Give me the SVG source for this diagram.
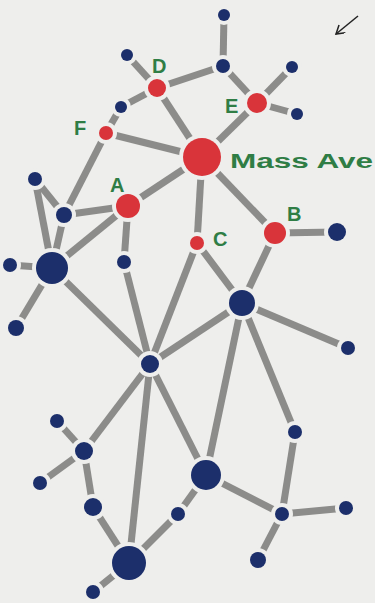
<svg xmlns="http://www.w3.org/2000/svg" width="375" height="603" viewBox="0 0 375 603">
<defs>
<marker id="ah" markerWidth="12" markerHeight="12" refX="9" refY="5" orient="auto" markerUnits="userSpaceOnUse">
<path d="M1,0 L9,5 L1,10" fill="none" stroke="#222" stroke-width="1.5"/>
</marker>
</defs>
<style>
.e{stroke:#8c8c8a;stroke-width:7;stroke-linecap:butt}
.b{fill:#1c2f6b;stroke:#eeeeec;stroke-width:8;paint-order:stroke fill}
.r{fill:#d9343a;stroke:#eeeeec;stroke-width:8;paint-order:stroke fill}
.t{fill:#2f7d45;font-family:"Liberation Sans",Arial,sans-serif;font-size:20px;font-weight:bold}
</style>
<rect width="375" height="603" fill="#eeeeec"/>
<g id="connectors">
<line class="e" x1="224" y1="15" x2="223" y2="66"/>
<line class="e" x1="127" y1="55" x2="157" y2="88"/>
<line class="e" x1="157" y1="88" x2="202" y2="157"/>
<line class="e" x1="157" y1="88" x2="223" y2="66"/>
<line class="e" x1="157" y1="88" x2="121" y2="107"/>
<line class="e" x1="223" y1="66" x2="257" y2="103"/>
<line class="e" x1="257" y1="103" x2="292" y2="67"/>
<line class="e" x1="257" y1="103" x2="297" y2="114"/>
<line class="e" x1="257" y1="103" x2="202" y2="157"/>
<line class="e" x1="121" y1="107" x2="106" y2="133"/>
<line class="e" x1="106" y1="133" x2="202" y2="157"/>
<line class="e" x1="106" y1="133" x2="64" y2="215"/>
<line class="e" x1="202" y1="157" x2="128" y2="206"/>
<line class="e" x1="202" y1="157" x2="197" y2="243"/>
<line class="e" x1="202" y1="157" x2="275" y2="233"/>
<line class="e" x1="128" y1="206" x2="64" y2="215"/>
<line class="e" x1="128" y1="206" x2="124" y2="262"/>
<line class="e" x1="128" y1="206" x2="52" y2="268"/>
<line class="e" x1="35" y1="179" x2="64" y2="215"/>
<line class="e" x1="35" y1="179" x2="52" y2="268"/>
<line class="e" x1="64" y1="215" x2="52" y2="268"/>
<line class="e" x1="52" y1="268" x2="10" y2="265"/>
<line class="e" x1="52" y1="268" x2="16" y2="328"/>
<line class="e" x1="52" y1="268" x2="150" y2="364"/>
<line class="e" x1="124" y1="262" x2="150" y2="364"/>
<line class="e" x1="197" y1="243" x2="150" y2="364"/>
<line class="e" x1="197" y1="243" x2="242" y2="303"/>
<line class="e" x1="275" y1="233" x2="242" y2="303"/>
<line class="e" x1="275" y1="233" x2="337" y2="232"/>
<line class="e" x1="242" y1="303" x2="150" y2="364"/>
<line class="e" x1="242" y1="303" x2="348" y2="348"/>
<line class="e" x1="242" y1="303" x2="206" y2="475"/>
<line class="e" x1="242" y1="303" x2="295" y2="432"/>
<line class="e" x1="150" y1="364" x2="84" y2="451"/>
<line class="e" x1="150" y1="364" x2="129" y2="563"/>
<line class="e" x1="150" y1="364" x2="206" y2="475"/>
<line class="e" x1="57" y1="421" x2="84" y2="451"/>
<line class="e" x1="84" y1="451" x2="40" y2="483"/>
<line class="e" x1="84" y1="451" x2="93" y2="507"/>
<line class="e" x1="93" y1="507" x2="129" y2="563"/>
<line class="e" x1="129" y1="563" x2="178" y2="514"/>
<line class="e" x1="178" y1="514" x2="206" y2="475"/>
<line class="e" x1="206" y1="475" x2="282" y2="514"/>
<line class="e" x1="295" y1="432" x2="282" y2="514"/>
<line class="e" x1="282" y1="514" x2="346" y2="508"/>
<line class="e" x1="282" y1="514" x2="258" y2="560"/>
<line class="e" x1="129" y1="563" x2="93" y2="592"/>
</g>
<g id="n_top"><circle class="b" cx="224" cy="15" r="6"/></g>
<g id="n_d_ul"><circle class="b" cx="127" cy="55" r="6"/></g>
<g id="n_e_top"><circle class="b" cx="223" cy="66" r="7"/></g>
<g id="n_e_ur"><circle class="b" cx="292" cy="67" r="6"/></g>
<g id="n_e_r"><circle class="b" cx="297" cy="114" r="6"/></g>
<g id="n_f_up"><circle class="b" cx="121" cy="107" r="6"/></g>
<g id="D"><circle class="r" cx="157" cy="88" r="9"/></g>
<g id="E"><circle class="r" cx="257" cy="103" r="10"/></g>
<g id="F"><circle class="r" cx="106" cy="133" r="7"/></g>
<g id="MassAve"><circle class="r" cx="202" cy="157" r="19"/></g>
<g id="n_left_top"><circle class="b" cx="35" cy="179" r="7"/></g>
<g id="A"><circle class="r" cx="128" cy="206" r="12"/></g>
<g id="n_a_left"><circle class="b" cx="64" cy="215" r="8"/></g>
<g id="C"><circle class="r" cx="197" cy="243" r="7"/></g>
<g id="B"><circle class="r" cx="275" cy="233" r="11"/></g>
<g id="n_b_r"><circle class="b" cx="337" cy="232" r="9"/></g>
<g id="n_below_A"><circle class="b" cx="124" cy="262" r="7"/></g>
<g id="n_bigleft"><circle class="b" cx="52" cy="268" r="16"/></g>
<g id="n_far_left"><circle class="b" cx="10" cy="265" r="7"/></g>
<g id="n_bl"><circle class="b" cx="16" cy="328" r="8"/></g>
<g id="n_right_big"><circle class="b" cx="242" cy="303" r="13"/></g>
<g id="n_rr"><circle class="b" cx="348" cy="348" r="7"/></g>
<g id="n_center"><circle class="b" cx="150" cy="364" r="9"/></g>
<g id="n_l1"><circle class="b" cx="57" cy="421" r="7"/></g>
<g id="n_l2"><circle class="b" cx="84" cy="451" r="9"/></g>
<g id="n_l3"><circle class="b" cx="40" cy="483" r="7"/></g>
<g id="n_l4"><circle class="b" cx="93" cy="507" r="9"/></g>
<g id="n_bottom_big"><circle class="b" cx="129" cy="563" r="17"/></g>
<g id="n_bottom_bl"><circle class="b" cx="93" cy="592" r="7"/></g>
<g id="n_mid"><circle class="b" cx="178" cy="514" r="7"/></g>
<g id="n_big3"><circle class="b" cx="206" cy="475" r="15"/></g>
<g id="n_r1"><circle class="b" cx="295" cy="432" r="7"/></g>
<g id="n_r2"><circle class="b" cx="282" cy="514" r="7"/></g>
<g id="n_r3"><circle class="b" cx="346" cy="508" r="7"/></g>
<g id="n_r4"><circle class="b" cx="258" cy="560" r="8"/></g>
<g id="labels">
<text class="t" x="152" y="73">D</text>
<text class="t" x="225" y="113">E</text>
<text class="t" x="74" y="135">F</text>
<text class="t" x="110" y="192">A</text>
<text class="t" x="213" y="246">C</text>
<text class="t" x="287" y="221">B</text>
<text class="t" x="230" y="168" font-size="24" font-weight="normal" textLength="143" lengthAdjust="spacingAndGlyphs">Mass Ave</text>
</g>
<line x1="358" y1="16" x2="336" y2="34" stroke="#222" stroke-width="1.5" marker-end="url(#ah)"/>
</svg>
